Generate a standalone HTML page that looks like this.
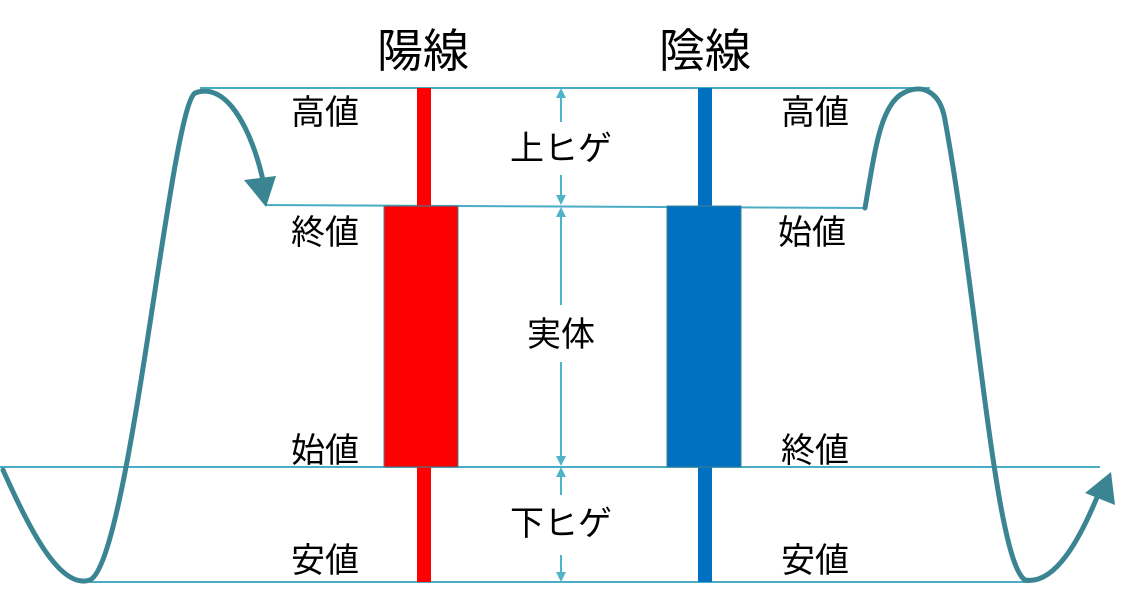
<!DOCTYPE html>
<html><head><meta charset="utf-8"><style>
html,body{margin:0;padding:0;background:#fff;}
svg{display:block}
text{font-family:"Liberation Sans","Noto Sans CJK JP",sans-serif;fill:#000;}
</style></head><body>
<svg width="1138" height="603" viewBox="0 0 1138 603" xmlns="http://www.w3.org/2000/svg">
<defs>
<marker id="a" markerWidth="10" markerHeight="10" refX="8" refY="5" orient="auto" markerUnits="userSpaceOnUse"><path d="M0,0 L10,5 L0,10 Z" fill="#4fb4c8"/></marker>
</defs>
<g stroke="#4bacc6" stroke-width="2" fill="none">
<line x1="200" y1="88" x2="930" y2="88"/>
<line x1="265" y1="205" x2="865" y2="208"/>
<line x1="0" y1="467" x2="1100" y2="467"/>
<line x1="90" y1="582" x2="1030" y2="582"/>
</g>
<rect x="417" y="88" width="14" height="494" fill="#ff0000"/>
<rect x="384" y="206" width="74" height="261" fill="#ff0000" stroke="#3b8593" stroke-width="1"/>
<rect x="698" y="88" width="14" height="494" fill="#0070c0"/>
<rect x="667" y="206" width="74" height="261" fill="#0070c0" stroke="#3b8593" stroke-width="1"/>
<g stroke="#4fb4c8" stroke-width="2" fill="none">
<line x1="561" y1="122" x2="561" y2="90" marker-end="url(#a)"/>
<line x1="561" y1="175" x2="561" y2="203" marker-end="url(#a)"/>
<line x1="561" y1="305" x2="561" y2="209" marker-end="url(#a)"/>
<line x1="561" y1="362" x2="561" y2="464" marker-end="url(#a)"/>
<line x1="561" y1="495" x2="561" y2="469" marker-end="url(#a)"/>
<line x1="561" y1="555" x2="561" y2="580" marker-end="url(#a)"/>
</g>
<g stroke="#3b8593" stroke-width="5" fill="none" stroke-linecap="round">
<path d="M3,470 C30,530 60,590 90,580 C130,560 170,110 195,93 C230,80 255,140 264,185"/>
<path d="M865,208 C875,150 880,110 900,95 C920,82 940,90 945,120 C978,300 995,560 1025,580 C1055,585 1080,540 1100,490"/>
</g>
<path d="M244,180 L276,176 L266,207 Z" fill="#3b8593"/>
<path d="M1085,493 L1111,472 L1115,505 Z" fill="#3b8593"/>
<g font-size="46">
<text x="423" y="67" text-anchor="middle">陽線</text>
<text x="705" y="67" text-anchor="middle">陰線</text>
</g>
<g font-size="34">
<text x="325" y="124" text-anchor="middle">高値</text>
<text x="325" y="244" text-anchor="middle">終値</text>
<text x="325" y="462" text-anchor="middle">始値</text>
<text x="325" y="572" text-anchor="middle">安値</text>
<text x="815" y="124" text-anchor="middle">高値</text>
<text x="812" y="244" text-anchor="middle">始値</text>
<text x="815" y="462" text-anchor="middle">終値</text>
<text x="815" y="572" text-anchor="middle">安値</text>
<text x="561" y="160" text-anchor="middle">上ヒゲ</text>
<text x="561" y="346" text-anchor="middle">実体</text>
<text x="561" y="535" text-anchor="middle">下ヒゲ</text>
</g>
</svg>
</body></html>
